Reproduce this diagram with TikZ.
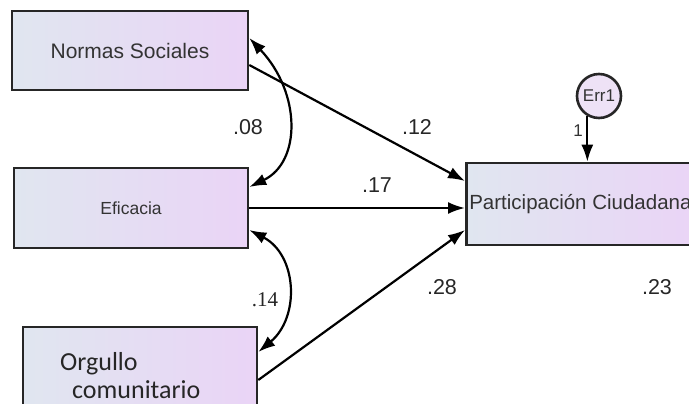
\documentclass[tikz,border=0pt]{standalone}
\usepackage{fontspec}
\setmainfont{Liberation Sans}
\newfontfamily\calfont{Carlito}
\newfontfamily\romfont{Liberation Serif}
\usetikzlibrary{arrows.meta}
\definecolor{boxleft}{RGB}{224,230,240}
\definecolor{boxright}{RGB}{234,212,246}
\definecolor{errfill}{RGB}{238,226,246}
\tikzset{
	var/.style={draw=black!85,line width=2.6pt,left color=boxleft,right color=boxright,inner sep=0pt,text=black!80},
	coef/.style={font=\fontsize{21.5}{23}\selectfont,text=black!85},
	regr/.style={->,line width=2.2pt},
	cov/.style={<->,line width=2.2pt},
}
\begin{document}
\begin{tikzpicture}[>={Latex[length=17pt,width=12pt]},x=1pt,y=-1pt]
\useasboundingbox (0,0) rectangle (689,404);
\clip (0,0) rectangle (689,404);
% Variablen
\node[var,minimum width=236pt,minimum height=79pt,font=\fontsize{21}{23}\selectfont] (ns) at (130,50.5) {Normas Sociales};
\node[var,minimum width=234pt,minimum height=80pt,font=\fontsize{17.5}{19}\selectfont] (ef) at (131,208) {Eficacia};
\node[var,minimum width=234pt,minimum height=84pt] (og) at (140,369) {};
\node[font=\calfont\fontsize{26}{28}\selectfont,align=left,anchor=west,inner sep=0pt,text=black!85] (ogtxt) at (60,376) {Orgullo\\\hspace*{12pt}comunitario};
\node[var,anchor=west,minimum height=82pt,inner xsep=3pt,font=\fontsize{20.5}{22}\selectfont] (pc) at (465,204) {Participación Ciudadana};
\node[circle,draw=black!85,line width=2.6pt,fill=errfill,minimum size=44pt,inner sep=0pt,font=\fontsize{17}{19}\selectfont,text=black!80] (err) at (599,96) {Err1};
% Pfade
\draw[regr] ([yshift=-14.5pt]ns.east) -- ([yshift=23pt]pc.west);
\draw[regr] (ef.east) -- (ef.east -| pc.west);
\draw[regr] ([yshift=-11pt]og.east) -- ([yshift=-26pt]pc.west);
\draw[regr] (err.-120) -- (err.-120 |- pc.north);
\draw[cov] ([yshift=12.5pt]ns.east) .. controls +(52,55) and +(52,-25) .. ([yshift=21pt]ef.east);
\draw[cov] ([yshift=-22pt]ef.east) .. controls +(48,25) and +(42,-35) .. ([yshift=17pt]og.east);
% Koeffizienten
\node[coef] (c08) at (248,127) {.08};
\node[coef] (c12) at (417,127) {.12};
\node[coef] (c17) at (377,185) {.17};
\node[coef,font=\romfont\fontsize{21}{23}\selectfont] (c14) at (265,300) {.14};
\node[coef] (c28) at (442,287) {.28};
\node[coef] (c23) at (657,287) {.23};
\node[font=\fontsize{17}{19}\selectfont,text=black!80] (one) at (578,131) {1};
\end{tikzpicture}
\end{document}
